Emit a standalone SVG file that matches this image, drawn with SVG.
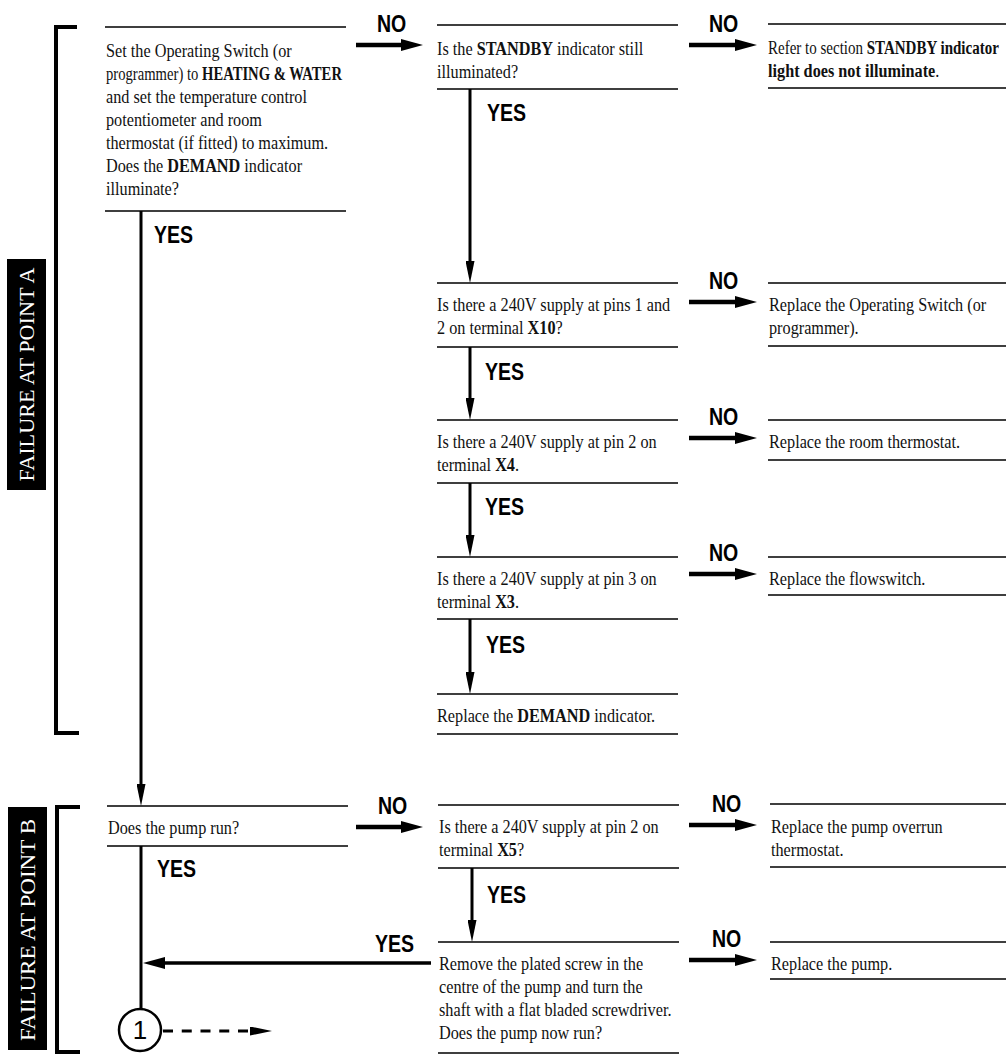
<svg xmlns="http://www.w3.org/2000/svg" width="1007" height="1054" viewBox="0 0 1007 1054">
<style>
.ln{stroke:#000;stroke-width:1.6;fill:none}
.cn{stroke:#000;stroke-width:3;fill:none}
.no{stroke:#000;stroke-width:4.5;fill:none}
.br{stroke:#000;stroke-width:4;fill:none}
.t{font-family:"Liberation Serif","Times New Roman",serif;font-size:19px;fill:#111}
.b{font-weight:bold}
.lbl{font-family:"Liberation Sans",Arial,sans-serif;font-weight:bold;font-size:23px;fill:#000}
.side{font-family:"Liberation Serif","Times New Roman",serif;font-size:22px;fill:#fff}
.num{font-family:"Liberation Sans",Arial,sans-serif;font-size:26px;fill:#000}
</style>
<defs>
<marker id="ah" markerUnits="userSpaceOnUse" viewBox="0 0 22 12" refX="2" refY="6" markerWidth="22" markerHeight="12" orient="auto"><path d="M0,0 L22,6 L0,12 z" fill="#000"/></marker>
<marker id="av" markerUnits="userSpaceOnUse" viewBox="0 0 22 9" refX="2" refY="4.5" markerWidth="22" markerHeight="9" orient="auto"><path d="M0,0 L22,4.5 L0,9 z" fill="#000"/></marker>
<marker id="ad" markerUnits="userSpaceOnUse" viewBox="0 0 22 9" refX="0" refY="4.5" markerWidth="22" markerHeight="9" orient="auto"><path d="M0,0 L22,4.5 L0,9 z" fill="#000"/></marker>
</defs>
<rect width="1007" height="1054" fill="#fff"/>

<g id="sectionA">
<path class="br" d="M77,27H56V733H79"/>
<rect x="7" y="259" width="39" height="231" fill="#000"/>
<text class="side" transform="translate(34 374.5) rotate(-90)" text-anchor="middle" textLength="214" lengthAdjust="spacingAndGlyphs">FAILURE AT POINT A</text>
</g>
<g id="sectionB">
<path class="br" d="M80,807H57V1052H80"/>
<rect x="8" y="807" width="39" height="243" fill="#000"/>
<text class="side" transform="translate(35 930) rotate(-90)" text-anchor="middle" textLength="222" lengthAdjust="spacingAndGlyphs">FAILURE AT POINT B</text>
</g>

<g id="n-demand-q">
<path class="ln" d="M105,27H346M105,211H346"/>
<g class="t" transform="translate(106 0) scale(0.855 1)">
<text y="57">Set the Operating Switch (or</text>
<text y="80" textLength="276" lengthAdjust="spacingAndGlyphs">programmer) to <tspan class="b">HEATING &amp; WATER</tspan></text>
<text y="103">and set the temperature control</text>
<text y="126">potentiometer and room</text>
<text y="149">thermostat (if fitted) to maximum.</text>
<text y="172">Does the <tspan class="b">DEMAND</tspan> indicator</text>
<text y="195">illuminate?</text>
</g>
</g>

<g id="n-standby-q">
<path class="ln" d="M437,25H678M437,89H678"/>
<g class="t" transform="translate(437 0) scale(0.855 1)">
<text y="55">Is the <tspan class="b">STANDBY</tspan> indicator still</text>
<text y="78">illuminated?</text>
</g>
</g>

<g id="n-standby-ref">
<path class="ln" d="M768,24H1006M768,88H1006"/>
<g class="t" transform="translate(768 0) scale(0.79 1)">
<text y="54">Refer to section <tspan class="b">STANDBY indicator</tspan></text>
</g>
<g class="t" transform="translate(768 0) scale(0.855 1)">
<text y="77"><tspan class="b">light does not illuminate</tspan>.</text>
</g>
</g>

<g id="n-x10">
<path class="ln" d="M437,283H678M437,347H678"/>
<g class="t" transform="translate(437 0) scale(0.855 1)">
<text y="311">Is there a 240V supply at pins 1 and</text>
<text y="334">2 on terminal <tspan class="b">X10</tspan>?</text>
</g>
</g>

<g id="n-switch">
<path class="ln" d="M768,283H1006M768,346H1006"/>
<g class="t" transform="translate(769 0) scale(0.855 1)">
<text y="311">Replace the Operating Switch (or</text>
<text y="334">programmer).</text>
</g>
</g>

<g id="n-x4">
<path class="ln" d="M437,420H678M437,483H678"/>
<g class="t" transform="translate(437 0) scale(0.855 1)">
<text y="448">Is there a 240V supply at pin 2 on</text>
<text y="471">terminal <tspan class="b">X4</tspan>.</text>
</g>
</g>

<g id="n-roomstat">
<path class="ln" d="M768,420H1006M768,460H1006"/>
<g class="t" transform="translate(769 0) scale(0.855 1)">
<text y="448">Replace the room thermostat.</text>
</g>
</g>

<g id="n-x3">
<path class="ln" d="M437,557H678M437,619H678"/>
<g class="t" transform="translate(437 0) scale(0.855 1)">
<text y="585">Is there a 240V supply at pin 3 on</text>
<text y="608">terminal <tspan class="b">X3</tspan>.</text>
</g>
</g>

<g id="n-flowswitch">
<path class="ln" d="M768,557H1006M768,595H1006"/>
<g class="t" transform="translate(769 0) scale(0.855 1)">
<text y="585">Replace the flowswitch.</text>
</g>
</g>

<g id="n-demand-ind">
<path class="ln" d="M437,694H678M437,734H678"/>
<g class="t" transform="translate(437 0) scale(0.855 1)">
<text y="722">Replace the <tspan class="b">DEMAND</tspan> indicator.</text>
</g>
</g>

<g id="n-pump-q">
<path class="ln" d="M107,806H348M107,846H348"/>
<g class="t" transform="translate(108 0) scale(0.855 1)">
<text y="834">Does the pump run?</text>
</g>
</g>

<g id="n-x5">
<path class="ln" d="M438,805H679M438,868H679"/>
<g class="t" transform="translate(439 0) scale(0.855 1)">
<text y="833">Is there a 240V supply at pin 2 on</text>
<text y="856">terminal <tspan class="b">X5</tspan>?</text>
</g>
</g>

<g id="n-overrun">
<path class="ln" d="M770,804H1006M770,867H1006"/>
<g class="t" transform="translate(771 0) scale(0.855 1)">
<text y="833">Replace the pump overrun</text>
<text y="856">thermostat.</text>
</g>
</g>

<g id="n-plated">
<path class="ln" d="M438,942H679M438,1053H679"/>
<g class="t" transform="translate(439 0) scale(0.855 1)">
<text y="970">Remove the plated screw in the</text>
<text y="993">centre of the pump and turn the</text>
<text y="1016">shaft with a flat bladed screwdriver.</text>
<text y="1039">Does the pump now run?</text>
</g>
</g>

<g id="n-pump">
<path class="ln" d="M770,942H1006M770,979H1006"/>
<g class="t" transform="translate(771 0) scale(0.855 1)">
<text y="970">Replace the pump.</text>
</g>
</g>

<g id="n-circle1">
<circle cx="140" cy="1030" r="21" fill="#fff" stroke="#000" stroke-width="2.5"/>
<text class="num" x="140" y="1039" text-anchor="middle">1</text>
</g>

<g id="connectors">
<line class="no" x1="356" y1="45" x2="403" y2="45" marker-end="url(#ah)"/>
<line class="no" x1="689" y1="45" x2="737" y2="45" marker-end="url(#ah)"/>
<line class="no" x1="689" y1="302" x2="737" y2="302" marker-end="url(#ah)"/>
<line class="no" x1="689" y1="438" x2="737" y2="438" marker-end="url(#ah)"/>
<line class="no" x1="689" y1="574" x2="737" y2="574" marker-end="url(#ah)"/>
<line class="no" x1="356" y1="827" x2="403" y2="827" marker-end="url(#ah)"/>
<line class="no" x1="689" y1="825" x2="737" y2="825" marker-end="url(#ah)"/>
<line class="no" x1="689" y1="960" x2="737" y2="960" marker-end="url(#ah)"/>
<line class="cn" x1="141" y1="211" x2="141" y2="786" marker-end="url(#av)"/>
<line class="cn" x1="470" y1="89" x2="470" y2="263" marker-end="url(#av)"/>
<line class="cn" x1="470" y1="347" x2="470" y2="400" marker-end="url(#av)"/>
<line class="cn" x1="470" y1="483" x2="470" y2="537" marker-end="url(#av)"/>
<line class="cn" x1="470" y1="619" x2="470" y2="674" marker-end="url(#av)"/>
<line class="cn" x1="472" y1="868" x2="472" y2="922" marker-end="url(#av)"/>
<line class="cn" x1="141" y1="846" x2="141" y2="1009"/>
<line class="no" style="stroke-width:3.5" x1="431" y1="963" x2="163" y2="963" marker-end="url(#ah)"/>
<line class="cn" style="stroke-dasharray:10 8.75" x1="163" y1="1031" x2="250" y2="1031" marker-end="url(#ad)"/>
<g transform="translate(377 32) scale(0.85 1)"><text class="lbl">NO</text></g>
<g transform="translate(709 32) scale(0.85 1)"><text class="lbl">NO</text></g>
<g transform="translate(487 121) scale(0.85 1)"><text class="lbl">YES</text></g>
<g transform="translate(154 243) scale(0.85 1)"><text class="lbl">YES</text></g>
<g transform="translate(709 289) scale(0.85 1)"><text class="lbl">NO</text></g>
<g transform="translate(485 380) scale(0.85 1)"><text class="lbl">YES</text></g>
<g transform="translate(709 425) scale(0.85 1)"><text class="lbl">NO</text></g>
<g transform="translate(485 515) scale(0.85 1)"><text class="lbl">YES</text></g>
<g transform="translate(709 561) scale(0.85 1)"><text class="lbl">NO</text></g>
<g transform="translate(486 653) scale(0.85 1)"><text class="lbl">YES</text></g>
<g transform="translate(378 814) scale(0.85 1)"><text class="lbl">NO</text></g>
<g transform="translate(712 812) scale(0.85 1)"><text class="lbl">NO</text></g>
<g transform="translate(157 877) scale(0.85 1)"><text class="lbl">YES</text></g>
<g transform="translate(487 903) scale(0.85 1)"><text class="lbl">YES</text></g>
<g transform="translate(375 952) scale(0.85 1)"><text class="lbl">YES</text></g>
<g transform="translate(712 947) scale(0.85 1)"><text class="lbl">NO</text></g>
</g>
</svg>
